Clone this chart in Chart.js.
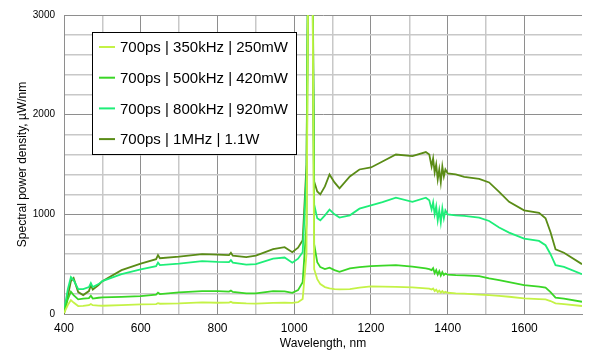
<!DOCTYPE html>
<html>
<head>
<meta charset="utf-8">
<script src="https://cdn.jsdelivr.net/npm/chart.js@4/dist/chart.umd.min.js"></script>
<style>
  html, body { margin: 0; padding: 0; background: #fff; }
  #wrap { width: 589px; height: 353px; }
</style>
</head>
<body>
<div id="wrap"><canvas id="spectrum"></canvas></div>
<script>
// ============================================
// DATA
// ============================================
const wavelengths = [
  400, 410, 418, 425, 437, 450, 465, 470, 475, 490, 500, 550, 600, 640, 645, 650,
  700, 760, 800, 830, 835, 840, 875, 900, 945, 975, 995, 1010, 1022, 1032, 1038, 1046,
  1052, 1060, 1068, 1080, 1092, 1105, 1118, 1145, 1170, 1200, 1230, 1265, 1308, 1343,
  1352, 1358, 1362, 1366, 1370, 1374, 1378, 1382, 1386, 1390, 1394, 1400, 1421, 1443,
  1482, 1508, 1534, 1560, 1599, 1638, 1655, 1668, 1681, 1703, 1750
];

const power250mW = [
  10, 90, 140, 115, 80, 82, 88, 100, 88, 85, 83, 90, 97, 100, 108, 103,
  107, 117, 113, 115, 122, 113, 107, 105, 112, 115, 112, 118, 150, 600, 4500, 4500,
  450, 350, 300, 270, 257, 250, 247, 250, 265, 278, 275, 272, 268, 258,
  255, 245, 255, 230, 245, 220, 235, 215, 230, 212, 222, 213, 207, 205,
  195, 190, 182, 173, 157, 150, 147, 130, 107, 100, 80
];

const power420mW = [
  20, 150, 223, 190, 147, 155, 160, 183, 155, 163, 167, 172, 180, 195, 213, 200,
  217, 230, 230, 225, 235, 222, 207, 207, 230, 228, 213, 240, 320, 900, 4500, 4500,
  700, 520, 470, 450, 465, 440, 423, 457, 470, 480, 485, 490, 475, 457,
  450, 440, 460, 410, 440, 395, 430, 385, 420, 390, 405, 395, 390, 387,
  380, 357, 340, 320, 290, 275, 265, 220, 165, 155, 123
];

const power920mW = [
  30, 250, 370, 340, 250, 250, 270, 310, 270, 300, 330, 400, 447, 480, 515, 490,
  505, 530, 522, 520, 540, 515, 495, 500, 555, 567, 515, 555, 620, 1400, 4500, 4500,
  1100, 960, 940, 990, 1047, 1000, 967, 990, 1057, 1090, 1123, 1167, 1125, 1167,
  1140, 1050, 1120, 1000, 1080, 940, 1040, 920, 1060, 960, 1040, 1000, 990, 985,
  967, 933, 867, 817, 757, 733, 690, 600, 490, 473, 400
];

const power1100mW = [
  0, 180, 330, 360, 220, 190, 230, 290, 245, 290, 330, 440, 505, 550, 590, 560,
  575, 600, 595, 590, 615, 585, 570, 585, 650, 670, 620, 665, 740, 1500, 4500, 4500,
  1330, 1230, 1200, 1280, 1400, 1320, 1260, 1380, 1450, 1470, 1530, 1600, 1585, 1625,
  1600, 1480, 1560, 1420, 1500, 1350, 1450, 1320, 1480, 1380, 1450, 1410, 1400, 1375,
  1355, 1320, 1225, 1125, 1040, 1015, 960, 820, 650, 615, 500
];

const seriesLabels = [
  '700ps | 350kHz | 250mW',
  '700ps | 500kHz | 420mW',
  '700ps | 800kHz | 920mW',
  '700ps | 1MHz | 1.1W'
];
const seriesColors = ['#c4f246', '#3ad626', '#1eee78', '#5a8c16'];

const xTicks = [400, 600, 800, 1000, 1200, 1400, 1600];
const yTicks = [0, 1000, 2000, 3000];

// ============================================
// HELPERS
// ============================================
function toPoints(values) {
  return wavelengths.map((w, i) => ({ x: w, y: values[i] }));
}

// boxed legend in the upper left of the plot
const boxLegend = {
  id: 'boxLegend',
  afterDraw(chart) {
    const ctx = chart.ctx;
    const left = 92, top = 32, width = 204, height = 122;
    ctx.save();
    ctx.fillStyle = '#fff';
    ctx.fillRect(left, top, width, height);
    ctx.strokeStyle = '#000';
    ctx.lineWidth = 1;
    ctx.strokeRect(left + 0.5, top + 0.5, width, height);
    ctx.font = '15px "Liberation Sans", Arial, sans-serif';
    ctx.textBaseline = 'middle';
    chart.data.datasets.forEach((ds, i) => {
      const y = 47 + i * 30.7;
      ctx.strokeStyle = ds.borderColor;
      ctx.lineWidth = 2;
      ctx.beginPath();
      ctx.moveTo(99, y);
      ctx.lineTo(115, y);
      ctx.stroke();
      ctx.fillStyle = '#000';
      ctx.fillText(ds.label, 120, y + 1);
    });
    ctx.restore();
  }
};

function gridColor(value, majorStep, minorStep) {
  if (value % majorStep === 0) return '#8e8e8e';
  if (value % minorStep === 0) return '#c8c8c8';
  return 'rgba(0,0,0,0)';
}

// ============================================
// CHART
// ============================================
const datasets = [power250mW, power420mW, power920mW, power1100mW].map((vals, i) => ({
  label: seriesLabels[i],
  data: toPoints(vals),
  borderColor: seriesColors[i],
  backgroundColor: seriesColors[i],
  borderWidth: 1.8,
  pointRadius: 0,
  tension: 0,
  fill: false
}));

new Chart(document.getElementById('spectrum'), {
  type: 'line',
  data: { datasets },
  plugins: [boxLegend],
  options: {
    responsive: true,
    maintainAspectRatio: false,
    animation: false,
    layout: { padding: { left: 0, right: 6, top: 14, bottom: 0 } },
    plugins: { legend: { display: false }, tooltip: { enabled: false } },
    scales: {
      x: {
        type: 'linear',
        min: 400, max: 1750,
        afterFit: (scale) => { scale.height = 39; },
        border: { color: '#8e8e8e' },
        grid: {
          drawTicks: false,
          color: (c) => gridColor(c.tick.value, 200, 100),
          lineWidth: (c) => (c.tick.value % 200 === 0 ? 1 : 1.5)
        },
        ticks: {
          stepSize: 100,
          autoSkip: false,
          maxRotation: 0,
          padding: 7,
          color: '#000',
          font: { family: '"Liberation Sans", Arial, sans-serif', size: 12 },
          callback: (v) => (xTicks.includes(v) ? String(v) : '')
        },
        title: {
          display: true,
          text: 'Wavelength, nm',
          color: '#000',
          padding: { top: 0, bottom: 2 },
          font: { family: '"Liberation Sans", Arial, sans-serif', size: 12 }
        }
      },
      y: {
        min: 0, max: 3000,
        afterFit: (scale) => { scale.width = 64; },
        border: { color: '#8e8e8e' },
        grid: {
          drawTicks: false,
          color: (c) => gridColor(c.tick.value, 1000, 200),
          lineWidth: (c) => (c.tick.value % 1000 === 0 ? 1 : 1.5)
        },
        ticks: {
          stepSize: 200,
          autoSkip: false,
          padding: 9,
          color: '#000',
          font: { family: '"Liberation Sans", Arial, sans-serif', size: 10 },
          callback: (v) => (yTicks.includes(v) ? String(v) : '')
        },
        title: {
          display: true,
          text: 'Spectral power density, µW/nm',
          color: '#000',
          padding: { top: 15, bottom: 0 },
          font: { family: '"Liberation Sans", Arial, sans-serif', size: 12 }
        }
      }
    }
  }
});
</script>
</body>
</html>
